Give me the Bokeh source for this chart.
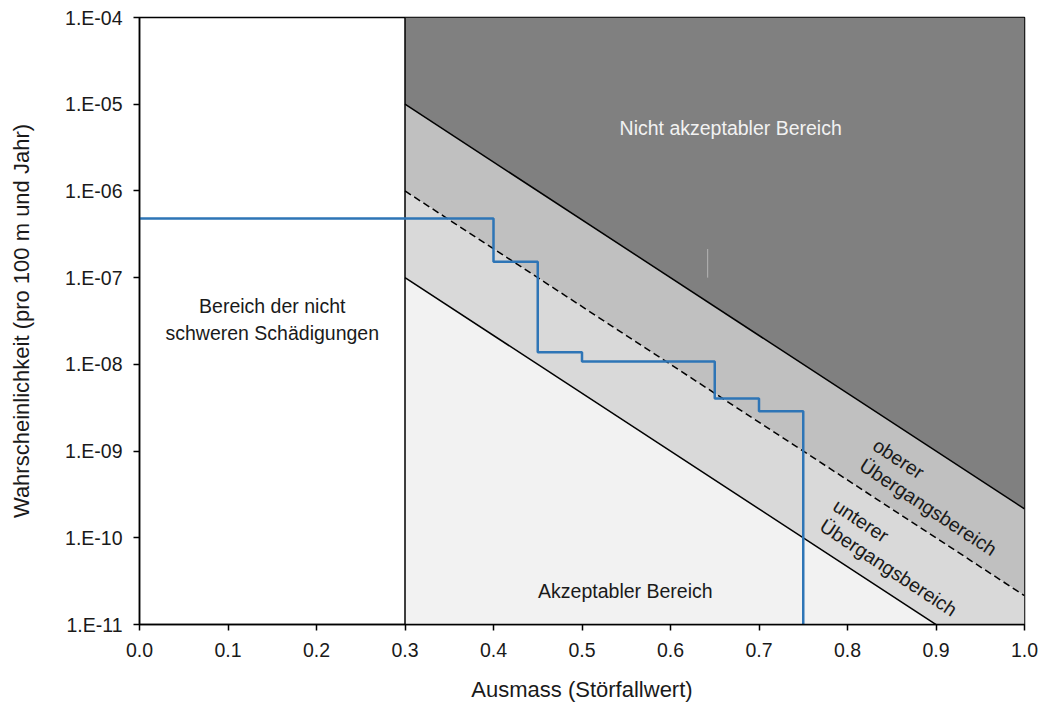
from bokeh.plotting import figure
from bokeh.models import Range1d, FixedTicker, CustomJSTickFormatter
from bokeh.core.properties import value
from bokeh.embed import file_html
from bokeh.resources import INLINE

# ---- data ----
x_ticks = [0.0, 0.1, 0.2, 0.3, 0.4, 0.5, 0.6, 0.7, 0.8, 0.9, 1.0]
x_tick_labels = ["0.0", "0.1", "0.2", "0.3", "0.4", "0.5", "0.6", "0.7", "0.8", "0.9", "1.0"]
y_ticks = [1e-11, 1e-10, 1e-9, 1e-8, 1e-7, 1e-6, 1e-5, 1e-4]
y_tick_labels = ["1.E-11", "1.E-10", "1.E-09", "1.E-08", "1.E-07", "1.E-06", "1.E-05", "1.E-04"]

# boundary lines (start at Ausmass 0.3, end at 1.0)
line_x = [0.3, 1.0]
upper_y = [1e-5, 2.15e-10]
dashed_y = [1e-6, 2.15e-11]
lower_y = [1e-7, 2.15e-12]
top_y = [1e-4, 1e-4]
floor_y = [1e-13, 1e-13]

# vertical boundary at 0.3
split_x = [0.3, 0.3]
split_y = [1e-11, 1e-4]

# blue step curve
step_x = [0.0, 0.4, 0.45, 0.5, 0.65, 0.7, 0.75]
step_y = [4.8e-7, 1.53e-7, 1.38e-8, 1.08e-8, 4.03e-9, 2.88e-9, 1e-11]

# faint mark in the upper region
mark_x = [0.642, 0.642]
mark_y = [2.14e-7, 1.0e-7]

FONT = "Liberation Sans"
TXT = "#1a1a1a"

p = figure(width=1038, height=704, output_backend="svg", toolbar_location=None,
           y_axis_type="log", x_range=Range1d(0.0, 1.0), y_range=Range1d(1e-11, 1e-4),
           min_border_left=139, min_border_right=14, min_border_top=17, min_border_bottom=76)
p.grid.visible = False
p.outline_line_color = "black"
p.outline_line_width = 1.5

# regions
p.varea(x=line_x, y1=upper_y, y2=top_y, fill_color="#808080")
p.varea(x=line_x, y1=dashed_y, y2=upper_y, fill_color="#c0c0c0")
p.varea(x=line_x, y1=lower_y, y2=dashed_y, fill_color="#d9d9d9")
p.varea(x=line_x, y1=floor_y, y2=lower_y, fill_color="#f2f2f2")

p.line(mark_x, mark_y, line_color="#b5b5b5", line_width=1)

# boundary lines
p.line(line_x, upper_y, line_color="black", line_width=1.5)
p.line(line_x, dashed_y, line_color="black", line_width=1.5, line_dash="7 4")
p.line(line_x, lower_y, line_color="black", line_width=1.5)
p.line(split_x, split_y, line_color="black", line_width=1.5)

# step curve
p.step(step_x, step_y, mode="after", line_color="#2e75b6", line_width=2.5)

# labels
p.text(x=[0.668], y=[5.34e-6], text=["Nicht akzeptabler Bereich"], text_align="center",
       text_baseline="middle", text_color="#f2f2f2", text_font=value(FONT), text_font_size="19.5px")
p.text(x=[0.150], y=[3.29e-8], text=["Bereich der nicht\nschweren Schädigungen"], text_align="center",
       text_baseline="middle", text_color=TXT, text_font=value(FONT), text_font_size="19.5px",
       text_line_height=1.2)
p.text(x=[0.549], y=[2.45e-11], text=["Akzeptabler Bereich"], text_align="center",
       text_baseline="middle", text_color=TXT, text_font=value(FONT), text_font_size="19.5px")
p.text(x=[0.838], y=[1.58e-9], text=["oberer\nÜbergangsbereich"], angle=-0.5817,
       text_align="left", text_baseline="top", text_color=TXT, text_font=value(FONT),
       text_font_size="19.5px", text_line_height=1.1)
p.text(x=[0.793], y=[3.17e-10], text=["unterer\nÜbergangsbereich"], angle=-0.5817,
       text_align="left", text_baseline="top", text_color=TXT, text_font=value(FONT),
       text_font_size="19.5px", text_line_height=1.1)

# axes
fmt_code = """
let best = 0, bd = Infinity;
for (let i = 0; i < tvals.length; i++) {
  const d = Math.abs(f(tvals[i]) - f(tick));
  if (d < bd) { bd = d; best = i; }
}
return tlabels[best];
"""
p.xaxis.ticker = FixedTicker(ticks=x_ticks, minor_ticks=[])
p.xaxis.formatter = CustomJSTickFormatter(args=dict(tvals=x_ticks, tlabels=x_tick_labels),
                                          code="const f = (v) => v;" + fmt_code)
p.yaxis.ticker = FixedTicker(ticks=y_ticks, minor_ticks=[])
p.yaxis.formatter = CustomJSTickFormatter(args=dict(tvals=y_ticks, tlabels=y_tick_labels),
                                          code="const f = (v) => Math.log10(v);" + fmt_code)

p.xaxis.axis_label = "Ausmass (Störfallwert)"
p.yaxis.axis_label = "Wahrscheinlichkeit (pro 100 m und Jahr)"
for ax in (p.xaxis, p.yaxis):
    ax.axis_line_color = "black"
    ax.axis_line_width = 1.5
    ax.major_tick_line_color = "black"
    ax.major_tick_line_width = 1.5
    ax.major_tick_in = 0
    ax.major_tick_out = 6
    ax.minor_tick_line_color = None
    ax.major_label_text_font = FONT
    ax.major_label_text_font_size = "19.5px"
    ax.major_label_text_color = TXT
    ax.axis_label_text_font = FONT
    ax.axis_label_text_font_size = "22px"
    ax.axis_label_text_font_style = "normal"
    ax.axis_label_text_color = TXT
p.xaxis.major_label_standoff = 12
p.xaxis.axis_label_standoff = 17
p.yaxis.major_label_standoff = 11
p.yaxis.axis_label_standoff = 28

open("out.html", "w").write(file_html(p, INLINE))
